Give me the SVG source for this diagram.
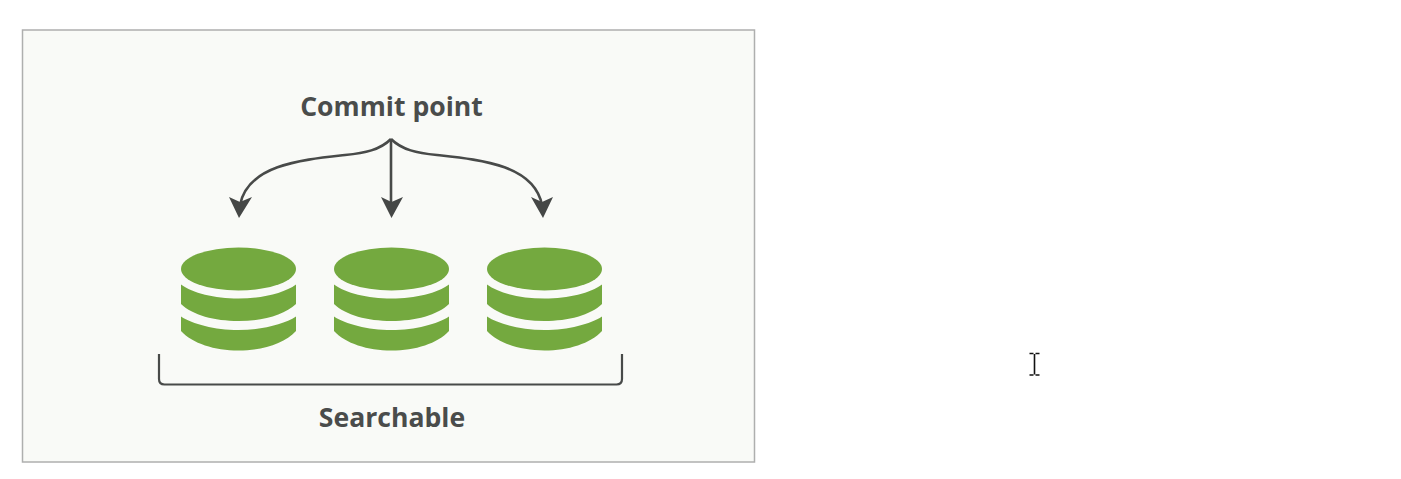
<svg xmlns="http://www.w3.org/2000/svg" width="1401" height="479" viewBox="0 0 1401 479">
<style>
.label{font-family:"Open Sans","Liberation Sans",sans-serif;font-weight:700;font-size:26.600px;fill:#4a4c4b;text-anchor:middle}
.wire{fill:none;stroke:#484a49;stroke-width:2.600}
.head{fill:#454746;stroke:none}
.disk{fill:#74a93f}
</style>
<defs>
<g id="db">
<ellipse class="disk" cx="0" cy="0" rx="57.500" ry="21.500"/>
<path class="disk" d="M-57.500 15.500 C-46 24 -24 29.500 0 29.500 C24 29.500 46 24 57.500 15.500 V35 C46 46 24 52 0 52 C-24 52 -46 46 -57.500 35 Z"/>
<path class="disk" d="M-57.500 47.500 C-46 55 -24 61 0 61 C24 61 46 55 57.500 47.500 V62 C46 74.500 24 81.500 0 81.500 C-24 81.500 -46 74.500 -57.500 62 Z"/>
</g>
</defs>
<rect width="1401" height="479" fill="#fff"/>
<rect id="panel" x="22.500" y="30" width="732" height="432" fill="#f9faf7" stroke="#aeafae" stroke-width="1.500"/>
<g id="commit-point"><text class="label" x="391.500" y="116">Commit point</text></g>
<g id="connectors">
<path class="wire" d="M391 139 C380 150 365 153 345 155 C300 160 248 165 240 205"/>
<path class="wire" d="M391 139 V205"/>
<path class="wire" d="M391 139 C402 150 417 153 437 155 C482 160 534 165 542 205"/>
<path class="head" d="M229 197 L240 202 L252 197 L239 218 Z"/>
<path class="head" d="M381 197 L391.500 202 L403 197 L391.500 218 Z"/>
<path class="head" d="M531 197 L542 202 L553 197 L543 218 Z"/>
<path class="wire" style="stroke-width:2.200" d="M159 354 V379 Q159 384.500 164.500 384.500 H616.500 Q622 384.500 622 379 V354"/>
</g>
<g id="segment-1"><use href="#db" x="238.500" y="269"/></g>
<g id="segment-2"><use href="#db" x="391.500" y="269"/></g>
<g id="segment-3"><use href="#db" x="544.500" y="269"/></g>
<g id="searchable"><text class="label" x="392" y="427">Searchable</text></g>
<g id="cursor" fill="none" stroke="#111" stroke-width="1.600">
<path d="M1034.500 354 V374.500 M1029.500 353.500 H1033.500 M1035.500 353.500 H1039.500 M1029.500 375 H1033.500 M1035.500 375 H1039.500"/>
</g>
</svg>
